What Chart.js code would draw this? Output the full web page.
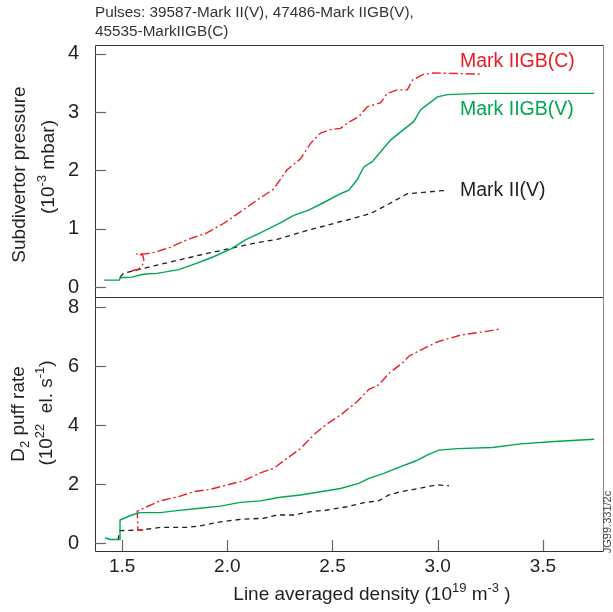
<!DOCTYPE html>
<html><head><meta charset="utf-8">
<script src="https://cdn.jsdelivr.net/npm/chart.js@4/dist/chart.umd.min.js"></script>
<style>
html,body{margin:0;padding:0;background:#fff;}
#wrap{position:relative;width:613px;height:612px;}
canvas{position:absolute;left:0;top:0;}
</style></head>
<body><div id="wrap"><canvas id="top" width="613" height="612"></canvas><canvas id="bot" width="613" height="612"></canvas></div>
<script>
// ---------- data ----------
const X_TICKS = [1.5, 2.0, 2.5, 3.0, 3.5];
const TOP_Y_TICKS = [0, 1, 2, 3, 4];
const BOT_Y_TICKS = [0, 2, 4, 6, 8];

// Subdivertor pressure (1e-3 mbar)
const pIIGB_V_x = [1.414,1.487,1.49,1.546,1.60,1.665,1.77,1.856,1.935,2.02,2.086,2.157,2.252,2.316,2.387,2.459,2.538,2.578,2.617,2.649,2.689,2.729,2.776,2.824,2.887,2.919,2.959,2.999,3.046,3.205,3.744];
const pIIGB_V_y = [0.12,0.12,0.16,0.17,0.22,0.235,0.30,0.41,0.52,0.66,0.81,0.93,1.10,1.23,1.32,1.45,1.60,1.66,1.84,2.06,2.15,2.32,2.52,2.66,2.84,3.04,3.15,3.26,3.30,3.32,3.32];
const pIIGB_C_x = [1.546,1.58,1.597,1.603,1.598,1.567,1.61,1.649,1.729,1.808,1.903,1.982,2.062,2.141,2.22,2.284,2.348,2.395,2.443,2.49,2.538,2.57,2.625,2.665,2.729,2.76,2.808,2.856,2.88,2.935,2.983,3.213];
const pIIGB_C_y = [0.28,0.31,0.38,0.47,0.55,0.566,0.57,0.59,0.68,0.81,0.93,1.09,1.29,1.49,1.68,2.01,2.20,2.46,2.64,2.70,2.72,2.81,2.92,3.09,3.16,3.32,3.38,3.38,3.55,3.65,3.67,3.65];
const pII_V_x = [1.49,1.50,1.506,1.60,1.729,1.871,1.999,2.125,2.237,2.38,2.443,2.535,2.57,2.681,2.76,2.856,2.95,3.046];
const pII_V_y = [0.17,0.21,0.235,0.32,0.43,0.55,0.65,0.75,0.82,0.97,1.03,1.12,1.15,1.26,1.41,1.60,1.63,1.66];

// D2 puff rate (1e22 el/s)
const fIIGB_V_x = [1.419,1.443,1.482,1.49,1.49,1.546,1.586,1.681,1.76,1.871,1.967,2.062,2.157,2.252,2.348,2.443,2.538,2.625,2.673,2.744,2.824,2.895,2.95,3.006,3.094,3.26,3.395,3.554,3.744];
const fIIGB_V_y = [0.18,0.12,0.12,0.12,0.78,0.95,1.03,1.03,1.10,1.18,1.25,1.38,1.43,1.55,1.63,1.74,1.85,2.02,2.19,2.36,2.59,2.78,2.98,3.15,3.20,3.24,3.36,3.44,3.52];
const fIIGB_C_x = [1.60,1.575,1.572,1.617,1.681,1.776,1.84,1.919,1.999,2.078,2.157,2.22,2.284,2.348,2.411,2.467,2.538,2.617,2.673,2.72,2.768,2.84,2.864,2.919,2.999,3.11,3.22,3.292];
const fIIGB_C_y = [0.44,0.44,1.08,1.23,1.43,1.59,1.74,1.82,1.97,2.11,2.38,2.53,2.87,3.20,3.67,4.0,4.34,4.79,5.21,5.36,5.75,6.15,6.34,6.54,6.82,7.05,7.16,7.25];
const fII_V_x = [1.48,1.49,1.586,1.681,1.808,1.871,1.967,2.062,2.173,2.237,2.316,2.395,2.475,2.57,2.649,2.72,2.768,2.824,2.887,2.95,2.999,3.054];
const fII_V_y = [0.10,0.42,0.44,0.53,0.53,0.58,0.72,0.80,0.84,0.95,0.95,1.06,1.12,1.23,1.37,1.43,1.63,1.74,1.82,1.91,1.97,1.94];

// ---------- styling ----------
const FONT = "'Liberation Sans', Arial, sans-serif";
const RED = '#ec1c24', GREEN = '#00a651', BLACK = '#231f20', TXT = '#231f20';
const pts = (xs, ys) => xs.map((x, i) => ({x, y: ys[i]}));
const redDs = d => ({data: d, borderColor: RED, borderWidth: 1.4, borderDash: [9,3,2,3], pointRadius: 0, showLine: true, tension: 0});
const greenDs = d => ({data: d, borderColor: GREEN, borderWidth: 1.4, pointRadius: 0, showLine: true, tension: 0});
const blackDs = d => ({data: d, borderColor: BLACK, borderWidth: 1.3, borderDash: [5,4], pointRadius: 0, showLine: true, tension: 0});

function drawRich(ctx, parts, x, y) {
  let w = 0;
  parts.forEach(p => { ctx.font = p.s + 'px ' + FONT; w += ctx.measureText(p.t).width; });
  let cx = x - w / 2;
  parts.forEach(p => {
    ctx.font = p.s + 'px ' + FONT;
    ctx.fillText(p.t, cx, y + (p.dy || 0));
    cx += ctx.measureText(p.t).width;
  });
}
function drawRot(ctx, parts, x, y) {
  ctx.save(); ctx.translate(x, y); ctx.rotate(-Math.PI / 2);
  drawRich(ctx, parts, 0, 0); ctx.restore();
}
function frame(ctx, a) {
  ctx.save(); ctx.lineWidth = 1;
  ctx.strokeStyle = '#333';
  ctx.beginPath();
  ctx.moveTo(a.right + 0.5, a.top + 0.5); ctx.lineTo(a.left + 0.5, a.top + 0.5);
  ctx.lineTo(a.left + 0.5, a.bottom + 0.5); ctx.lineTo(a.right + 0.5, a.bottom + 0.5);
  ctx.stroke();
  ctx.strokeStyle = '#888';
  ctx.beginPath(); ctx.moveTo(a.right + 0.5, a.top); ctx.lineTo(a.right + 0.5, a.bottom + 1); ctx.stroke();
  ctx.restore();
}
function yTickMarks(ctx, chart, ticks) {
  const a = chart.chartArea, ys = chart.scales.y;
  ctx.save(); ctx.strokeStyle = '#666'; ctx.lineWidth = 1.2;
  ticks.forEach(v => { const py = Math.round(ys.getPixelForValue(v)) + 0.5;
    ctx.beginPath(); ctx.moveTo(a.left, py); ctx.lineTo(a.left + 11, py); ctx.stroke(); });
  ctx.restore();
}

const yAxis = (min, max, ticks) => ({
  type: 'linear', min, max,
  afterFit: s => { s.width = 95; },
  afterBuildTicks: s => { s.ticks = ticks.map(v => ({value: v})); },
  grid: {display: false}, border: {display: false},
  ticks: {color: TXT, font: {family: FONT, size: 20}, padding: 8}
});

// ---------- top chart ----------
new Chart(document.getElementById('top'), {
  type: 'scatter',
  data: {datasets: [greenDs(pts(pIIGB_V_x, pIIGB_V_y)), redDs(pts(pIIGB_C_x, pIIGB_C_y)), blackDs(pts(pII_V_x, pII_V_y))]},
  options: {
    responsive: false, animation: false, devicePixelRatio: 1,
    layout: {padding: {left: 0, right: 10, top: 45, bottom: 315}},
    plugins: {legend: {display: false}, tooltip: {enabled: false}},
    scales: {
      x: {type: 'linear', display: false, min: 1.371, max: 3.786},
      y: yAxis(-0.17, 4.15, TOP_Y_TICKS)
    }
  },
  plugins: [{id: 'deco', afterDraw(chart) {
    const ctx = chart.ctx, a = chart.chartArea;
    frame(ctx, a); yTickMarks(ctx, chart, TOP_Y_TICKS);
    ctx.save(); ctx.textBaseline = 'alphabetic'; ctx.textAlign = 'left';
    ctx.fillStyle = '#333'; ctx.font = '15.3px ' + FONT;
    ctx.fillText('Pulses: 39587-Mark II(V), 47486-Mark IIGB(V),', 95, 17);
    ctx.fillText('45535-MarkIIGB(C)', 95, 36);
    ctx.font = '19.5px ' + FONT;
    ctx.fillStyle = RED; ctx.fillText('Mark IIGB(C)', 460, 67);
    ctx.fillStyle = GREEN; ctx.fillText('Mark IIGB(V)', 460, 115);
    ctx.fillStyle = TXT; ctx.fillText('Mark II(V)', 460, 196);
    ctx.textAlign = 'left';
    drawRot(ctx, [{t: 'Subdivertor pressure', s: 19}], 24.5, 174.5);
    drawRot(ctx, [{t: '(10', s: 19}, {t: '-3', s: 13, dy: -8}, {t: ' mbar)', s: 19}], 53.5, 167);
    ctx.restore();
  }}]
});

// ---------- bottom chart ----------
new Chart(document.getElementById('bot'), {
  type: 'scatter',
  data: {datasets: [greenDs(pts(fIIGB_V_x, fIIGB_V_y)), redDs(pts(fIIGB_C_x, fIIGB_C_y)), blackDs(pts(fII_V_x, fII_V_y))]},
  options: {
    responsive: false, animation: false, devicePixelRatio: 1,
    layout: {padding: {left: 0, right: 10, top: 297, bottom: 0}},
    plugins: {legend: {display: false}, tooltip: {enabled: false}},
    scales: {
      x: {type: 'linear', min: 1.371, max: 3.786,
        afterFit: s => { s.height = 61; },
        afterBuildTicks: s => { s.ticks = X_TICKS.map(v => ({value: v})); },
        grid: {display: false}, border: {display: false},
        ticks: {color: TXT, font: {family: FONT, size: 19}, padding: -4, maxRotation: 0,
          callback: v => v.toFixed(1)}},
      y: yAxis(-0.27, 8.34, BOT_Y_TICKS)
    }
  },
  plugins: [{id: 'deco', afterDraw(chart) {
    const ctx = chart.ctx, a = chart.chartArea, xs = chart.scales.x;
    frame(ctx, a); yTickMarks(ctx, chart, BOT_Y_TICKS);
    ctx.save(); ctx.strokeStyle = '#666'; ctx.lineWidth = 1.2;
    X_TICKS.forEach(v => { const px = Math.round(xs.getPixelForValue(v)) + 0.5;
      ctx.beginPath(); ctx.moveTo(px, a.bottom); ctx.lineTo(px, a.bottom - 11); ctx.stroke(); });
    ctx.restore();
    ctx.save(); ctx.fillStyle = TXT; ctx.textBaseline = 'alphabetic'; ctx.textAlign = 'left';
    drawRot(ctx, [{t: 'D', s: 19}, {t: '2', s: 13, dy: 5}, {t: ' puff rate', s: 19}], 24, 414);
    drawRot(ctx, [{t: '(10', s: 19}, {t: '22', s: 13, dy: -8}, {t: '  el. s', s: 19}, {t: '-1', s: 13, dy: -8}, {t: ')', s: 19}], 52, 413);
    drawRich(ctx, [{t: 'Line averaged density (10', s: 19}, {t: '19', s: 13, dy: -8}, {t: ' m', s: 19}, {t: '-3', s: 13, dy: -8}, {t: ' )', s: 19}], 372, 600);
    ctx.fillStyle = '#444';
    drawRot(ctx, [{t: 'JG99.331/2c', s: 11}], 611, 522);
    ctx.restore();
  }}]
});
</script>
</body></html>
